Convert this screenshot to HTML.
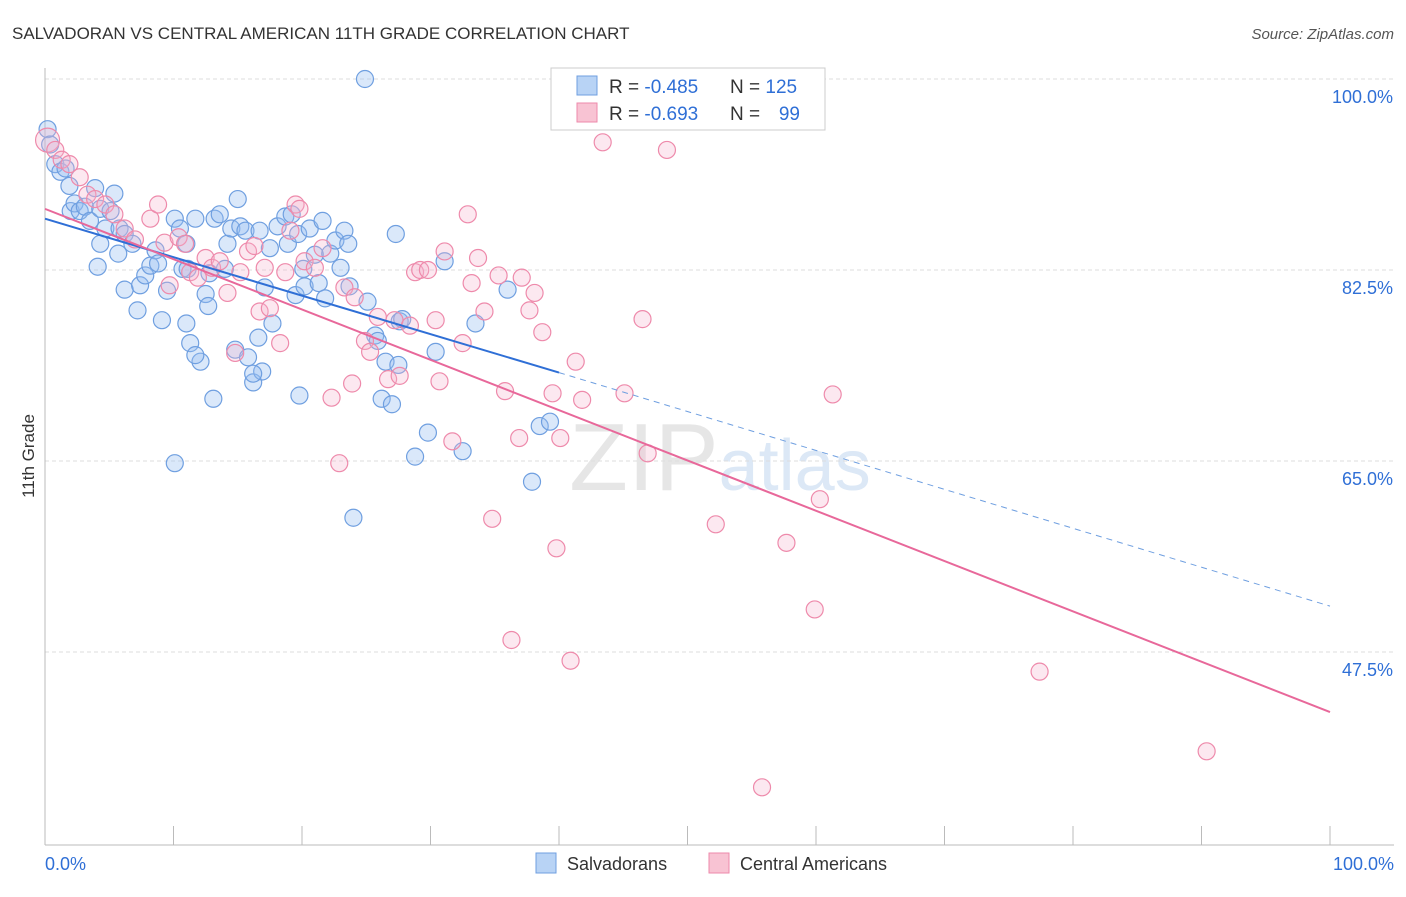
<!DOCTYPE html>
<html><head><meta charset="utf-8"><style>
body{margin:0;background:#fff;font-family:"Liberation Sans",sans-serif}
svg text{font-family:"Liberation Sans",sans-serif}
</style></head><body>
<svg id="chart" width="1406" height="892" viewBox="0 0 1406 892">
<text x="12" y="39" font-size="17" fill="#333">SALVADORAN VS CENTRAL AMERICAN 11TH GRADE CORRELATION CHART</text>
<text x="1394" y="39" font-size="15" fill="#555" font-style="italic" text-anchor="end">Source: ZipAtlas.com</text>
<text x="720" y="490" font-size="96" fill="#e6e6e6" text-anchor="middle" font-family="Liberation Serif">ZIP<tspan fill="#dce8f6" font-family="Liberation Sans" font-size="72">atlas</tspan></text>
<g id="grid"></g><g id="axes"></g><g id="pts"></g><g id="trends"></g>
<text x="34" y="456" font-size="17" fill="#333" text-anchor="middle" transform="rotate(-90 34 456)">11th Grade</text>
<g>
<rect x="551" y="68" width="274" height="62" fill="#fff" stroke="#ccc"/>
<rect x="577" y="76" width="20" height="19" fill="#b8d3f5" stroke="#6f9fe0"/>
<rect x="577" y="103" width="20" height="19" fill="#f8c3d3" stroke="#ee8aab"/>
<text x="609" y="93" font-size="19" fill="#333">R = <tspan fill="#2f6fd6">-0.485</tspan></text>
<text x="730" y="93" font-size="19" fill="#333">N = <tspan fill="#2f6fd6">125</tspan></text>
<text x="609" y="120" font-size="19" fill="#333">R = <tspan fill="#2f6fd6">-0.693</tspan></text>
<text x="730" y="120" font-size="19" fill="#333">N = </text>
<text x="800" y="120" font-size="19" fill="#2f6fd6" text-anchor="end">99</text>
</g>
<g>
<rect x="536" y="853" width="20" height="20" fill="#b8d3f5" stroke="#6f9fe0"/>
<text x="567" y="870" font-size="18" fill="#333">Salvadorans</text>
<rect x="709" y="853" width="20" height="20" fill="#f8c3d3" stroke="#ee8aab"/>
<text x="740" y="870" font-size="18" fill="#333">Central Americans</text>
</g>
<text x="45" y="870" font-size="18" fill="#2f6fd6">0.0%</text>
<text x="1394" y="870" font-size="18" fill="#2f6fd6" text-anchor="end">100.0%</text>
</svg>
<script>
const yTicks=[100,82.5,65,47.5];
const yTickLabels=["100.0%","82.5%","65.0%","47.5%"];
const xTicks=[0,10,20,30,40,50,60,70,80,90,100];
const blueX=[24.9,0.2,0.4,0.8,1.2,1.6,1.9,2.0,2.3,2.7,3.1,3.5,3.9,4.3,4.7,5.1,5.4,5.8,6.2,4.3,4.1,5.7,6.2,6.8,7.4,7.2,7.8,8.2,8.6,8.8,9.1,9.5,11.0,10.1,10.5,10.7,11.0,11.3,11.1,11.7,12.1,12.5,12.7,12.8,13.1,13.2,13.6,14.0,14.2,14.5,14.8,15.0,15.2,15.6,15.8,16.2,16.6,16.7,16.9,17.1,17.5,17.7,18.1,18.7,18.9,19.2,19.5,19.7,19.8,20.1,20.2,20.6,21.0,21.3,21.6,21.8,22.2,22.6,23.0,23.3,23.6,23.7,24.0,25.1,25.7,25.9,26.2,26.5,27.0,27.3,27.5,27.6,27.8,28.8,29.8,30.4,31.1,32.5,33.5,36.0,37.9,38.5,39.3,10.1,11.7,16.2];
const blueY=[100,95.4,94.0,92.2,91.5,91.8,90.2,87.9,88.6,87.9,88.3,87.0,90.0,88.1,86.3,87.9,89.5,86.3,85.8,84.9,82.8,84.0,80.7,84.9,81.1,78.8,82.0,82.9,84.3,83.1,77.9,80.6,84.9,87.2,86.3,82.6,77.6,75.8,82.6,87.2,74.1,80.3,79.2,82.2,70.7,87.2,87.6,82.6,84.9,86.3,75.2,89.0,86.5,86.1,74.5,72.2,76.3,86.1,73.2,80.9,84.5,77.6,86.5,87.4,84.9,87.6,80.2,85.8,71.0,82.6,81.0,86.3,83.9,81.3,87.0,79.9,84.0,85.2,82.7,86.1,84.9,81.0,59.8,79.6,76.5,76.0,70.7,74.1,70.2,85.8,73.8,77.8,78.0,65.4,67.6,75.0,83.3,65.9,77.6,80.7,63.1,68.2,68.6,64.8,74.7,73.0];
const pinkX=[0.2,0.8,1.3,1.9,2.7,3.3,3.9,4.7,5.4,6.2,7.0,8.2,8.8,9.3,9.7,10.4,10.9,11.3,11.9,12.5,13.0,13.6,14.2,14.8,15.2,15.8,16.3,16.7,17.1,17.5,18.3,18.7,19.1,19.5,19.8,20.2,21.0,21.6,22.3,22.9,23.3,23.9,24.1,24.9,25.3,25.9,26.7,27.2,27.6,28.4,28.8,29.2,29.8,30.4,30.7,31.1,31.7,32.5,32.9,33.2,33.7,34.2,34.8,35.3,35.8,36.3,36.9,37.1,37.7,38.1,38.7,39.5,39.8,40.1,40.9,41.3,41.8,43.4,45.1,46.5,46.9,48.4,52.2,55.8,57.7,59.9,60.3,61.3,77.4,90.4];
const pinkY=[94.4,93.5,92.6,92.2,91.0,89.4,89.0,88.5,87.6,86.3,85.3,87.2,88.5,85.0,81.1,85.5,84.9,82.3,81.8,83.6,82.7,83.3,80.4,74.9,82.3,84.2,84.7,78.7,82.7,79.0,75.8,82.3,86.1,88.5,88.1,83.3,82.7,84.5,70.8,64.8,80.9,72.1,80.0,76.0,75.0,78.2,72.5,77.9,72.8,77.4,82.3,82.5,82.5,77.9,72.3,84.2,66.8,75.8,87.6,81.3,83.6,78.7,59.7,82.0,71.4,48.6,67.1,81.8,78.8,80.4,76.8,71.2,57.0,67.1,46.7,74.1,70.6,94.2,71.2,78.0,65.7,93.5,59.2,35.1,57.5,51.4,61.5,71.1,45.7,38.4];
const blueTrend=[87.2,73.1,51.7];
const pinkTrend=[88.1,42.0];
const X=v=>45+v*12.85, Y=v=>79+(100-v)*10.914;
const NS="http://www.w3.org/2000/svg";
function mk(p,t,a){const e=document.createElementNS(NS,t);for(const k in a)e.setAttribute(k,a[k]);p.appendChild(e);return e;}
const grid=document.getElementById('grid'),axes=document.getElementById('axes'),pts=document.getElementById('pts'),tr=document.getElementById('trends');
yTicks.forEach((v,i)=>{
 const l=mk(grid,'line',{x1:45,x2:1394,y1:Y(v),y2:Y(v),stroke:'#ddd','stroke-dasharray':'4,3'});
 
 
 const t=mk(grid,'text',{x:1393,y:Y(v)+24,'font-size':18,fill:'#2f6fd6','text-anchor':'end'});
 t.textContent=yTickLabels[i];
 
 
});
mk(axes,'line',{x1:45,x2:45,y1:68,y2:845,stroke:'#bbb'});
mk(axes,'line',{x1:45,x2:1394,y1:845,y2:845,stroke:'#bbb'});
xTicks.forEach(v=>{const t=mk(axes,'line',{x1:X(v),x2:X(v),y1:826,y2:845,stroke:'#bbb'});
 
 });
const nB=Math.min(blueX.length,blueY.length);
for(let i=0;i<nB;i++){const c=mk(pts,'circle',{cx:X(blueX[i]),cy:Y(blueY[i]),r:8.5,fill:'rgba(150,190,240,0.35)',stroke:'#6f9fe0','stroke-width':1.2});
 
 }
const nP=Math.min(pinkX.length,pinkY.length);
for(let i=0;i<nP;i++){const c=mk(pts,'circle',{cx:X(pinkX[i]),cy:Y(pinkY[i]),r:i==0?12:8.5,fill:'rgba(246,180,204,0.3)',stroke:'#ee8aab','stroke-width':1.2});
 
 }
let b1=mk(tr,'line',{x1:X(0),y1:Y(blueTrend[0]),x2:X(40),y2:Y(blueTrend[1]),stroke:'#2f6fd6','stroke-width':2});


let b2=mk(tr,'line',{x1:X(40),y1:Y(blueTrend[1]),x2:X(100),y2:Y(blueTrend[2]),stroke:'#6f9fe0','stroke-width':1,'stroke-dasharray':'6,5'});


let p1=mk(tr,'line',{x1:X(0),y1:Y(pinkTrend[0]),x2:X(100),y2:Y(pinkTrend[1]),stroke:'#e8689a','stroke-width':2});


</script>
</body></html>
